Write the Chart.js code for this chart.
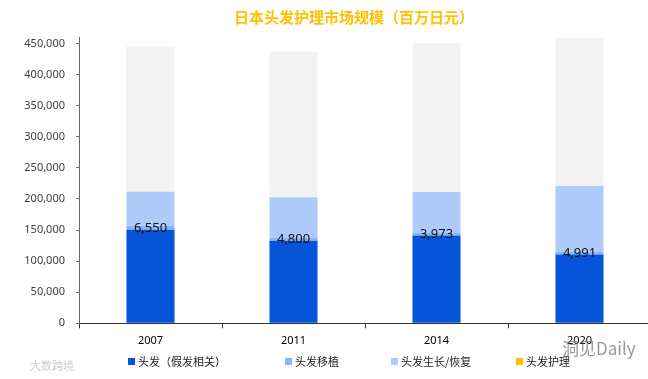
<!DOCTYPE html>
<html>
<head>
<meta charset="utf-8">
<script src="https://cdn.jsdelivr.net/npm/chart.js@4.4.1/dist/chart.umd.min.js"></script>
<style>
  html, body { margin: 0; padding: 0; background: #fff; overflow: hidden; }
  #wrap { position: relative; width: 648px; height: 379px; overflow: hidden; }
</style>
</head>
<body>
<div id="wrap">
  <canvas id="chart_hairCareMarket" width="651" height="379"></canvas>
</div>
<script>
const categories = ['2007', '2011', '2014', '2020'];
const seriesNames = ['头发（假发相关）', '头发移植', '头发生长/恢复', '头发护理'];
const wigValues = [150300, 132600, 141100, 110600];
const transplantValues = [6550, 4800, 3973, 4991];
const growthValues = [54750, 65400, 66200, 105400];
const careValues = [233500, 234300, 239000, 238300];
const yTickValues = [0, 50000, 100000, 150000, 200000, 250000, 300000, 350000, 400000, 450000];

const barColors = ['#0554DA', '#8DB4F5', '#AFCBF9', '#F2F2F2'];
const legendColors = ['#0554DA', '#8DB4F5', '#AFCBF9', '#FFC000'];
const legendX = [128, 285, 391, 516];

Chart.defaults.font.family = '"Noto Sans", "Noto Sans CJK SC", sans-serif';

var chart_hairCareMarket = new Chart(document.getElementById('chart_hairCareMarket'), {
    type: 'bar',
    data: {
        labels: categories,
        datasets: [
            { label: seriesNames[0], data: wigValues, backgroundColor: barColors[0] },
            { label: seriesNames[1], data: transplantValues, backgroundColor: barColors[1] },
            { label: seriesNames[2], data: growthValues, backgroundColor: barColors[2] },
            { label: seriesNames[3], data: careValues, backgroundColor: barColors[3] }
        ]
    },
    options: {
        animation: false,
        responsive: false,
        devicePixelRatio: 1,
        layout: { padding: 0 },
        datasets: {
            bar: { categoryPercentage: 1, barPercentage: 0.336, borderWidth: 0 }
        },
        plugins: {
            title: {
                display: true,
                text: '日本头发护理市场规模（百万日元）',
                color: '#FFC000',
                font: { size: 15, weight: 'bold', family: '"Noto Sans CJK SC", sans-serif' },
                padding: { top: 8, bottom: 11.3 }
            },
            legend: { display: false },
            tooltip: { enabled: false }
        },
        scales: {
            x: {
                stacked: true,
                grid: { display: true, drawOnChartArea: false, drawTicks: true, tickLength: 5, offset: true, color: '#333' },
                border: { display: true, color: '#333', width: 1 },
                ticks: { color: '#000', font: { size: 11 }, padding: 6, maxRotation: 0 },
                afterFit: (scale) => { scale.height = 55.7; }
            },
            y: {
                stacked: true,
                min: 0,
                max: 460000,
                grid: { display: true, drawOnChartArea: false, drawTicks: true, tickLength: 3, color: '#666' },
                border: { display: true, color: '#666', width: 1 },
                ticks: {
                    color: '#404040',
                    font: { size: 11 },
                    padding: 11,
                    callback: (v) => v.toLocaleString('en-US')
                },
                afterBuildTicks: (scale) => {
                    scale.ticks = yTickValues.map(v => ({ value: v }));
                },
                afterFit: (scale) => { scale.width = 79; }
            }
        }
    },
    plugins: [{
        id: 'customPlugin',
        afterLayout: (chart) => {
            // the title sits a bit right of the canvas centre in the original
            const t = chart.titleBlock;
            const w = t.right - t.left;
            t.left = 354 - w / 2;
            t.right = 354 + w / 2;
        },
        beforeDraw: (chart) => {
            const ctx = chart.ctx;
            ctx.save();
            ctx.fillStyle = 'white';
            ctx.fillRect(0, 0, chart.width, chart.height);
            ctx.restore();
        },
        afterDatasetsDraw: (chart) => {
            // value labels on the thin transplant segment
            const ctx = chart.ctx;
            const meta = chart.getDatasetMeta(1);
            ctx.save();
            ctx.font = '13px "Noto Sans", sans-serif';
            ctx.fillStyle = '#111';
            ctx.textAlign = 'center';
            ctx.textBaseline = 'middle';
            meta.data.forEach((bar, i) => {
                const p = bar.getCenterPoint();
                ctx.fillText(transplantValues[i].toLocaleString('en-US'), p.x, p.y);
            });
            ctx.restore();
        },
        afterDraw: (chart) => {
            const ctx = chart.ctx;
            ctx.save();
            // legend
            ctx.font = '11px "Noto Sans CJK SC", sans-serif';
            ctx.textBaseline = 'middle';
            chart.data.datasets.forEach((ds, i) => {
                ctx.fillStyle = legendColors[i];
                ctx.fillRect(legendX[i], 358, 7, 7);
                ctx.fillStyle = '#222';
                ctx.fillText(ds.label, legendX[i] + 10, 361.5);
            });
            // watermarks
            ctx.fillStyle = 'rgba(120,120,120,0.75)';
            ctx.font = '17px "Noto Sans CJK SC", sans-serif';
            ctx.fillText('洞见Daily', 562, 349);
            ctx.fillStyle = 'rgba(170,170,170,0.6)';
            ctx.font = '11px "Noto Sans CJK SC", sans-serif';
            ctx.fillText('大数跨境', 30, 366);
            ctx.restore();
        }
    }]
});
</script>
</body>
</html>
